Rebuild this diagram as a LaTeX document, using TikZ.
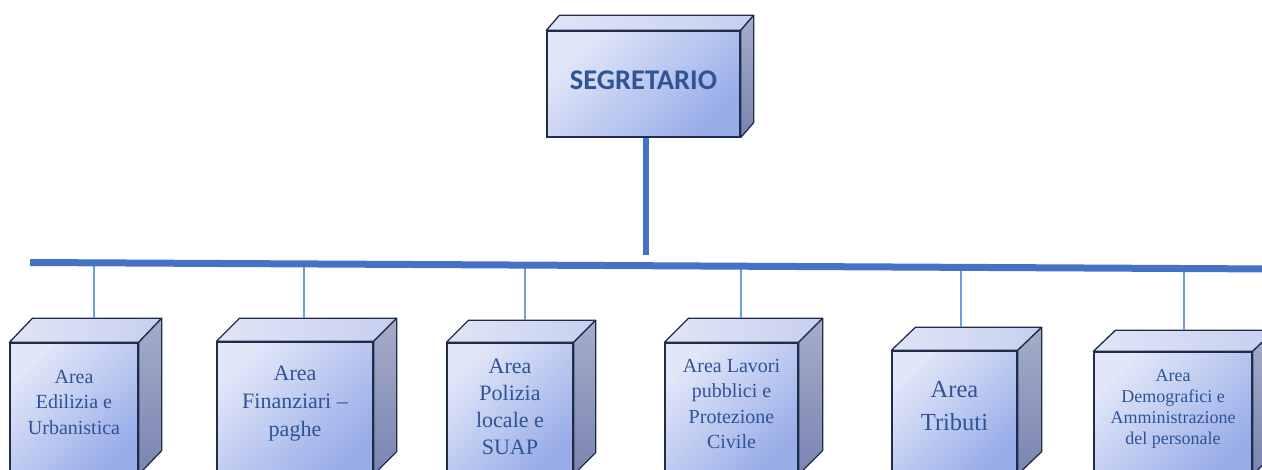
\documentclass[tikz,border=0pt]{standalone}
\usepackage{fontspec}
\setmainfont{Liberation Serif}
\newfontfamily\calibri{Carlito}
\usetikzlibrary{calc}

\definecolor{busblue}{RGB}{68,114,196}
\definecolor{linkblue}{RGB}{114,155,222}
\definecolor{edgenavy}{RGB}{30,45,75}
\definecolor{txtblue}{RGB}{47,84,150}
\definecolor{facelight}{RGB}{226,231,248}
\definecolor{facedark}{RGB}{152,172,232}
\definecolor{toplight}{RGB}{224,229,246}
\definecolor{topdark}{RGB}{198,207,238}
\definecolor{sidelight}{RGB}{165,173,200}
\definecolor{sidedark}{RGB}{122,133,178}

\newcommand{\boxtext}[2]{\raisebox{#1}[\height][\depth]{\begin{tabular}{@{}c@{}}#2\end{tabular}}}

\begin{document}
\begin{tikzpicture}[x=1pt,y=-1pt,
  front/.style={draw=edgenavy,line width=1.3pt,rectangle,inner sep=0pt,
    top color=facelight,bottom color=facedark,shading angle=45,text=txtblue},
  face/.style={draw=edgenavy,line width=1.3pt,line join=round},
  bus/.style={draw=busblue,line width=7pt},
  trunk/.style={draw=busblue,line width=6pt},
  link/.style={draw=linkblue,line width=1.3pt}]

  \useasboundingbox (0,0) rectangle (1262,470);
  \clip (0,0) rectangle (1262,470);

  % front faces
  \node[front,minimum width=193pt,minimum height=106pt,
    font=\calibri\bfseries\fontsize{28.5}{34}\selectfont] (segr) at (643.5,84)
    {\raisebox{4pt}[\height][\depth]{SEGRETARIO}};
  \node[front,minimum width=128pt,minimum height=131pt,font=\fontsize{20}{25.5}\selectfont]
    (a1) at (74,408.5) {\boxtext{5pt}{Area\\Edilizia e\\Urbanistica}};
  \node[front,minimum width=156pt,minimum height=132pt,font=\fontsize{22}{27.5}\selectfont]
    (a2) at (295,408) {\boxtext{5pt}{Area\\Finanziari --\\paghe}};
  \node[front,minimum width=126pt,minimum height=131pt,font=\fontsize{22}{27.3}\selectfont]
    (a3) at (510,408.5) {\boxtext{0pt}{Area\\Polizia\\locale e\\SUAP}};
  \node[front,minimum width=133pt,minimum height=131pt,font=\fontsize{20}{25.3}\selectfont]
    (a4) at (731.5,408.5) {\boxtext{3pt}{Area Lavori\\pubblici e\\Protezione\\Civile}};
  \node[front,minimum width=125pt,minimum height=123pt,font=\fontsize{24.5}{33}\selectfont]
    (a5) at (954.5,412.5) {\boxtext{5pt}{Area\\Tributi}};
  \node[front,minimum width=158pt,minimum height=122pt,font=\fontsize{18}{21}\selectfont]
    (a6) at (1173,413) {\boxtext{4pt}{Area\\Demografici e\\Amministrazione\\del personale}};

  % top and side faces
  \foreach \n/\dx/\dy in {segr/13/15,a1/23/24,a2/23/23,a3/22/22,a4/24/24,a5/24/23,a6/22/21} {
    \draw[face,left color=toplight,right color=topdark]
      (\n.north west) -- ++(\dx,-\dy) -- ($(\n.north east)+(\dx,-\dy)$) -- (\n.north east) -- cycle;
    \draw[face,top color=sidelight,bottom color=sidedark]
      (\n.north east) -- ++(\dx,-\dy) -- ($(\n.south east)+(\dx,-\dy)$) -- (\n.south east) -- cycle;
    \coordinate (\n back) at ($(\n.north)+(\dx,-\dy)$);
  }

  % joints on the bus
  \coordinate (j1) at (94,262.8);
  \coordinate (j2) at (304,263.8);
  \coordinate (j3) at (525,264.9);
  \coordinate (j4) at (741,265.9);
  \coordinate (j5) at (961,267);
  \coordinate (j6) at (1184,268.1);
  \foreach \i in {1,...,6}
    \draw[link] (j\i) -- (j\i |- a\i back);

  \coordinate (busW) at (30,262.5);
  \coordinate (busE) at (1275,269);
  \draw[bus] (busW) -- (busE);

  \coordinate (trunkS) at (646,255);
  \draw[trunk] ([xshift=2.5pt]segr.south) -- (trunkS);
\end{tikzpicture}
\end{document}
